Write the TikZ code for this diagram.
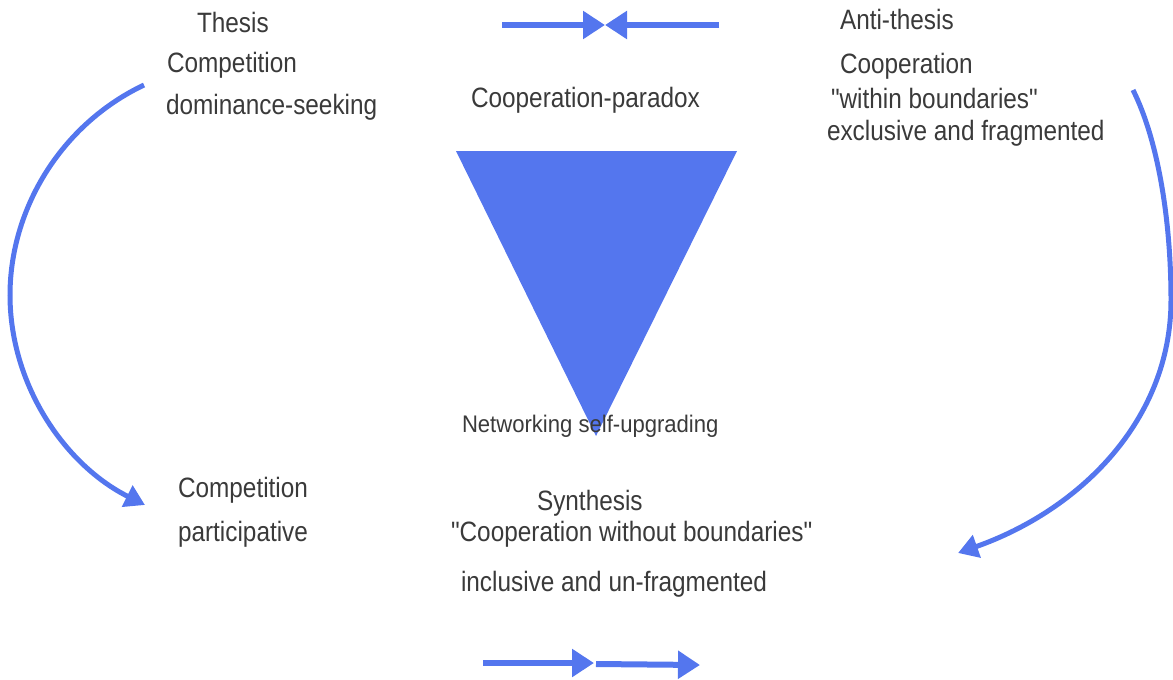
\documentclass[tikz,border=0pt]{standalone}
\usepackage{fontspec}
\setmainfont{Liberation Sans}[FakeStretch=0.87, Ligatures=TeXOff]
\newfontfamily\netfont{Liberation Sans}[FakeStretch=0.92, Ligatures=TeXOff]
\usetikzlibrary{arrows.meta}
\definecolor{blu}{RGB}{84,118,238}
\definecolor{txt}{RGB}{58,58,58}
\tikzset{
  lbl/.style={anchor=base west, inner sep=0pt, outer sep=0pt, text=txt, font=\fontsize{28}{30}\selectfont},
  netlbl/.style={anchor=base west, inner sep=0pt, outer sep=0pt, text=txt, font=\netfont\fontsize{24}{26}\selectfont},
  bigarrow/.style={draw=blu, line width=6pt, -{Triangle[length=22pt,width=27pt]}},
  curvearrow/.style={draw=blu, line width=5pt, -{Triangle[length=20pt,width=23pt]}}
}
\begin{document}
\begin{tikzpicture}[x=1pt,y=-1pt]
\useasboundingbox (0,0) rectangle (1173,680);
% triangle
\fill[blu] (456,151) -- (737,151) -- (596,436) -- cycle;
% top arrows
\coordinate (tl) at (502,25);
\coordinate (tm) at (605,25);
\coordinate (tr) at (719,25);
\draw[bigarrow] (tl) -- (tm);
\draw[bigarrow] (tr) -- (tm);
% bottom arrows
\coordinate (bl) at (483,663);
\coordinate (bm) at (594,663);
\coordinate (bm2) at (596,664);
\coordinate (br) at (700,665);
\draw[bigarrow] (bl) -- (bm);
\draw[bigarrow] (bm2) -- (br);
% left curve
\coordinate (ls) at (144,85);
\coordinate (lm) at (10,295);
\coordinate (le) at (145,505);
\draw[curvearrow] (ls) .. controls (60,125) and (10,210) .. (lm) .. controls (10,385) and (65,465) .. (le);
% right curve
\coordinate (rs) at (1133,90);
\coordinate (rm) at (1171,300);
\coordinate (re) at (958,553);
\draw[curvearrow] (rs) .. controls (1158,140) and (1171,220) .. (rm) .. controls (1171,420) and (1080,510) .. (re);
% labels
\node[lbl] (thesis) at (197,32.5) {Thesis};
\node[lbl] (comp1) at (167,72.5) {Competition};
\node[lbl] (dom) at (166,114) {dominance-seeking};
\node[lbl] (paradox) at (471,107.5) {Cooperation-paradox};
\node[lbl] (anti) at (840,29.5) {Anti-thesis};
\node[lbl] (coop) at (840,73.5) {Cooperation};
\node[lbl] (within) at (831,108.5) {"within boundaries"};
\node[lbl] (excl) at (827,140.3) {exclusive and fragmented};
\node[netlbl] (net) at (462,432.5) {Networking self-upgrading};
\node[lbl] (comp2) at (178,497) {Competition};
\node[lbl] (part) at (178,541.5) {participative};
\node[lbl] (synth) at (537,510.7) {Synthesis};
\node[lbl] (without) at (451,541.7) {"Cooperation without boundaries"};
\node[lbl] (incl) at (461,591) {inclusive and un-fragmented};
\end{tikzpicture}
\end{document}
